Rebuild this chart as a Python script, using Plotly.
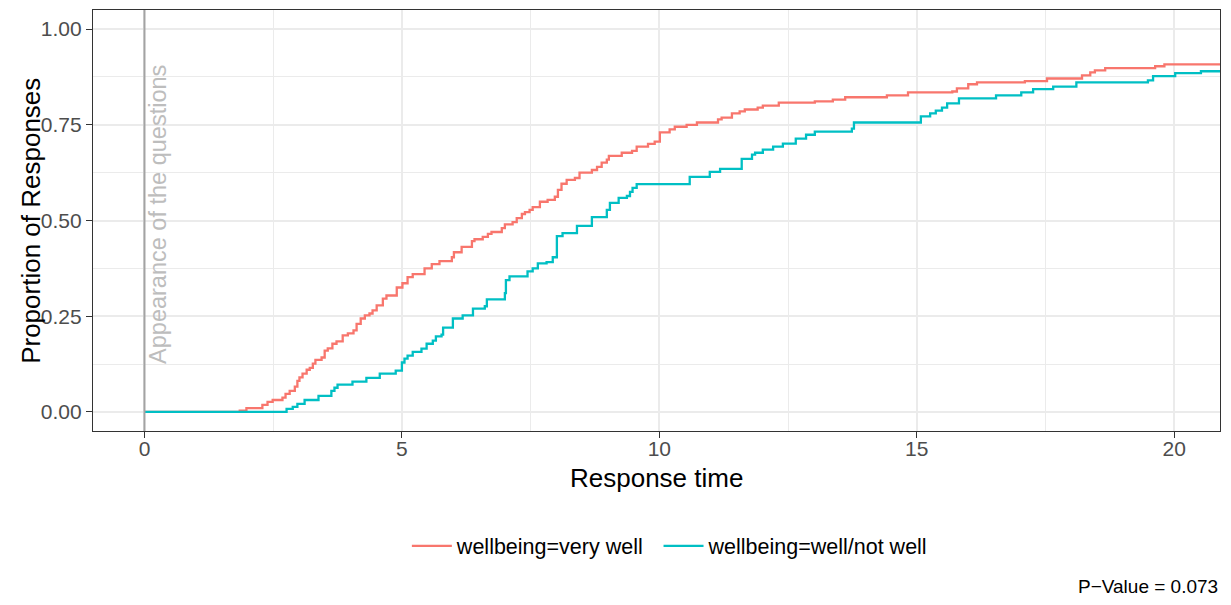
import plotly.graph_objects as go

# Step-curve data (time, cumulative proportion)
very_well_x = [0, 1.85, 1.98, 2.29, 2.39, 2.49, 2.68, 2.74, 2.82, 2.92, 2.97, 3.01, 3.07, 3.15,
               3.21, 3.27, 3.32, 3.44, 3.50, 3.56, 3.65, 3.73, 3.85, 3.95, 4.06, 4.12, 4.20,
               4.28, 4.37, 4.43, 4.51, 4.63, 4.70, 4.90, 5.01, 5.11, 5.21, 5.44, 5.58, 5.73,
               5.97, 6.01, 6.16, 6.36, 6.41, 6.57, 6.67, 6.74, 6.94, 7.00, 7.15, 7.23, 7.33,
               7.39, 7.48, 7.54, 7.68, 7.83, 7.97, 8.03, 8.10, 8.20, 8.36, 8.45, 8.69, 8.79,
               8.88, 8.98, 9.02, 9.27, 9.47, 9.56, 9.78, 9.91, 10.01, 10.20, 10.30, 10.53,
               10.73, 11.14, 11.21, 11.41, 11.56, 11.66, 11.91, 12.01, 12.32, 13.02, 13.37,
               13.61, 14.42, 14.83, 15.69, 15.78, 16.00, 16.17, 17.10, 17.53, 18.21, 18.37,
               18.46, 18.66, 19.63, 19.81, 21.04]
very_well_y = [0, 0.003, 0.010, 0.018, 0.026, 0.031, 0.037, 0.047, 0.055, 0.066, 0.081, 0.090,
               0.100, 0.110, 0.115, 0.126, 0.136, 0.142, 0.160, 0.166, 0.178, 0.184, 0.200,
               0.205, 0.213, 0.230, 0.244, 0.252, 0.257, 0.265, 0.278, 0.296, 0.304, 0.325,
               0.336, 0.352, 0.360, 0.375, 0.386, 0.394, 0.404, 0.417, 0.431, 0.446, 0.451,
               0.457, 0.465, 0.470, 0.480, 0.490, 0.496, 0.506, 0.517, 0.522, 0.528, 0.535,
               0.549, 0.554, 0.562, 0.580, 0.596, 0.606, 0.611, 0.625, 0.632, 0.640, 0.651,
               0.659, 0.669, 0.677, 0.682, 0.693, 0.700, 0.706, 0.730, 0.738, 0.745, 0.750,
               0.756, 0.764, 0.769, 0.780, 0.785, 0.790, 0.795, 0.800, 0.808, 0.811, 0.816,
               0.822, 0.827, 0.835, 0.837, 0.845, 0.856, 0.861, 0.864, 0.871, 0.879, 0.887,
               0.892, 0.898, 0.903, 0.908, 0.908]

well_x = [0, 2.76, 2.88, 2.97, 3.11, 3.38, 3.63, 3.69, 3.75, 4.04, 4.31, 4.57, 4.88, 5.00,
          5.05, 5.11, 5.21, 5.38, 5.48, 5.60, 5.66, 5.77, 5.80, 5.99, 6.18, 6.38, 6.61, 6.65,
          7.00, 7.02, 7.09, 7.44, 7.54, 7.64, 7.81, 7.93, 8.01, 8.12, 8.40, 8.69, 8.98, 9.04,
          9.21, 9.37, 9.43, 9.48, 9.56, 10.59, 10.98, 11.18, 11.60, 11.80, 11.86, 12.01,
          12.21, 12.40, 12.65, 12.85, 13.02, 13.74, 13.78, 15.08, 15.26, 15.37, 15.49, 15.59,
          15.82, 16.54, 17.03, 17.26, 17.65, 18.10, 19.49, 19.59, 20.02, 20.52, 21.04]
well_y = [0, 0.008, 0.013, 0.021, 0.031, 0.042, 0.055, 0.063, 0.071, 0.079, 0.089, 0.100,
          0.108, 0.129, 0.139, 0.147, 0.157, 0.165, 0.178, 0.186, 0.197, 0.202, 0.220, 0.244,
          0.252, 0.270, 0.276, 0.294, 0.310, 0.344, 0.354, 0.367, 0.375, 0.388, 0.391, 0.404,
          0.459, 0.467, 0.486, 0.509, 0.528, 0.546, 0.559, 0.564, 0.575, 0.585, 0.595, 0.614,
          0.627, 0.635, 0.661, 0.672, 0.677, 0.685, 0.693, 0.701, 0.714, 0.724, 0.732, 0.740,
          0.756, 0.772, 0.780, 0.787, 0.795, 0.806, 0.819, 0.827, 0.835, 0.843, 0.850, 0.861,
          0.866, 0.877, 0.885, 0.890, 0.890]

series_names = ["wellbeing=very well", "wellbeing=well/not well"]
series_colors = ["#F8766D", "#00BFC4"]
x_ticks = [0, 5, 10, 15, 20]
y_ticks = [0.0, 0.25, 0.5, 0.75, 1.0]
y_tick_labels = ["0.00", "0.25", "0.50", "0.75", "1.00"]
p_value_text = "P\u2212Value = 0.073"
marker_text = "Appearance of the questions"
x_title = "Response time"
y_title = "Proportion of Responses"

FONT = "Liberation Sans, Arial, sans-serif"

fig = go.Figure()
for xs, ys, name, col, lg in [(very_well_x, very_well_y, series_names[0], series_colors[0], "legend"),
                              (well_x, well_y, series_names[1], series_colors[1], "legend2")]:
    fig.add_trace(go.Scatter(x=xs, y=ys, mode="lines", line_shape="hv", name=name,
                             legend=lg, showlegend=True, line=dict(color=col, width=2.3)))

fig.add_shape(type="line", xref="x", yref="paper", x0=0, x1=0, y0=0, y1=1,
              line=dict(color="#A3A3A3", width=2), layer="above")

fig.add_annotation(x=0, y=0.12, xref="x", yref="y", text=marker_text, textangle=-90,
                   showarrow=False, xanchor="left", yanchor="bottom", xshift=-1,
                   font=dict(family=FONT, size=23.5, color="#BDBDBD"))

fig.add_annotation(x=1.0, y=-0.394, xref="paper", yref="paper", text=p_value_text,
                   showarrow=False, xanchor="right", yanchor="bottom", yshift=-2,
                   font=dict(family=FONT, size=19, color="black"))

fig.add_annotation(x=-0.0556, y=0.5, xref="paper", yref="paper", text=y_title, textangle=-90,
                   showarrow=False, xanchor="center", yanchor="middle",
                   font=dict(family=FONT, size=26, color="black"))

fig.add_annotation(x=0.5, y=-0.112, xref="paper", yref="paper", text=x_title,
                   showarrow=False, xanchor="center", yanchor="middle",
                   font=dict(family=FONT, size=26, color="black"))

axis_common = dict(showline=True, mirror=True, linecolor="#333333", linewidth=1.3,
                   ticks="outside", ticklen=6, tickwidth=1.3, tickcolor="#333333",
                   showgrid=True, gridcolor="#EBEBEB", gridwidth=1.8, zeroline=False,
                   automargin=False,
                   tickfont=dict(family=FONT, size=21, color="#4D4D4D"))

fig.update_xaxes(range=[-1.0, 20.89], tickvals=x_ticks, ticklabelstandoff=-7,
                 minor=dict(tickvals=[2.5, 7.5, 12.5, 17.5], showgrid=True,
                            gridcolor="#EBEBEB", gridwidth=0.9, ticks=""),
                 **axis_common)
fig.update_yaxes(range=[-0.05, 1.05], tickvals=y_ticks, ticktext=y_tick_labels,
                 minor=dict(tickvals=[0.125, 0.375, 0.625, 0.875], showgrid=True,
                            gridcolor="#EBEBEB", gridwidth=0.9, ticks=""),
                 **axis_common)

legend_style = dict(orientation="h", y=-0.273, yanchor="middle", xanchor="left", itemwidth=40,
                    font=dict(family=FONT, size=21.5, color="black"), bgcolor="rgba(0,0,0,0)")

# The page body has an 8px default margin, so the figure is sized to fit inside it.
fig.update_layout(
    width=1215, height=589,
    margin=dict(l=85, r=3, t=2, b=166, autoexpand=False),
    plot_bgcolor="white", paper_bgcolor="white",
    font=dict(family=FONT, color="black"),
    showlegend=True,
    legend=dict(x=0.2785, **legend_style),
    legend2=dict(x=0.5018, **legend_style),
)

fig.write_html("out.html")
